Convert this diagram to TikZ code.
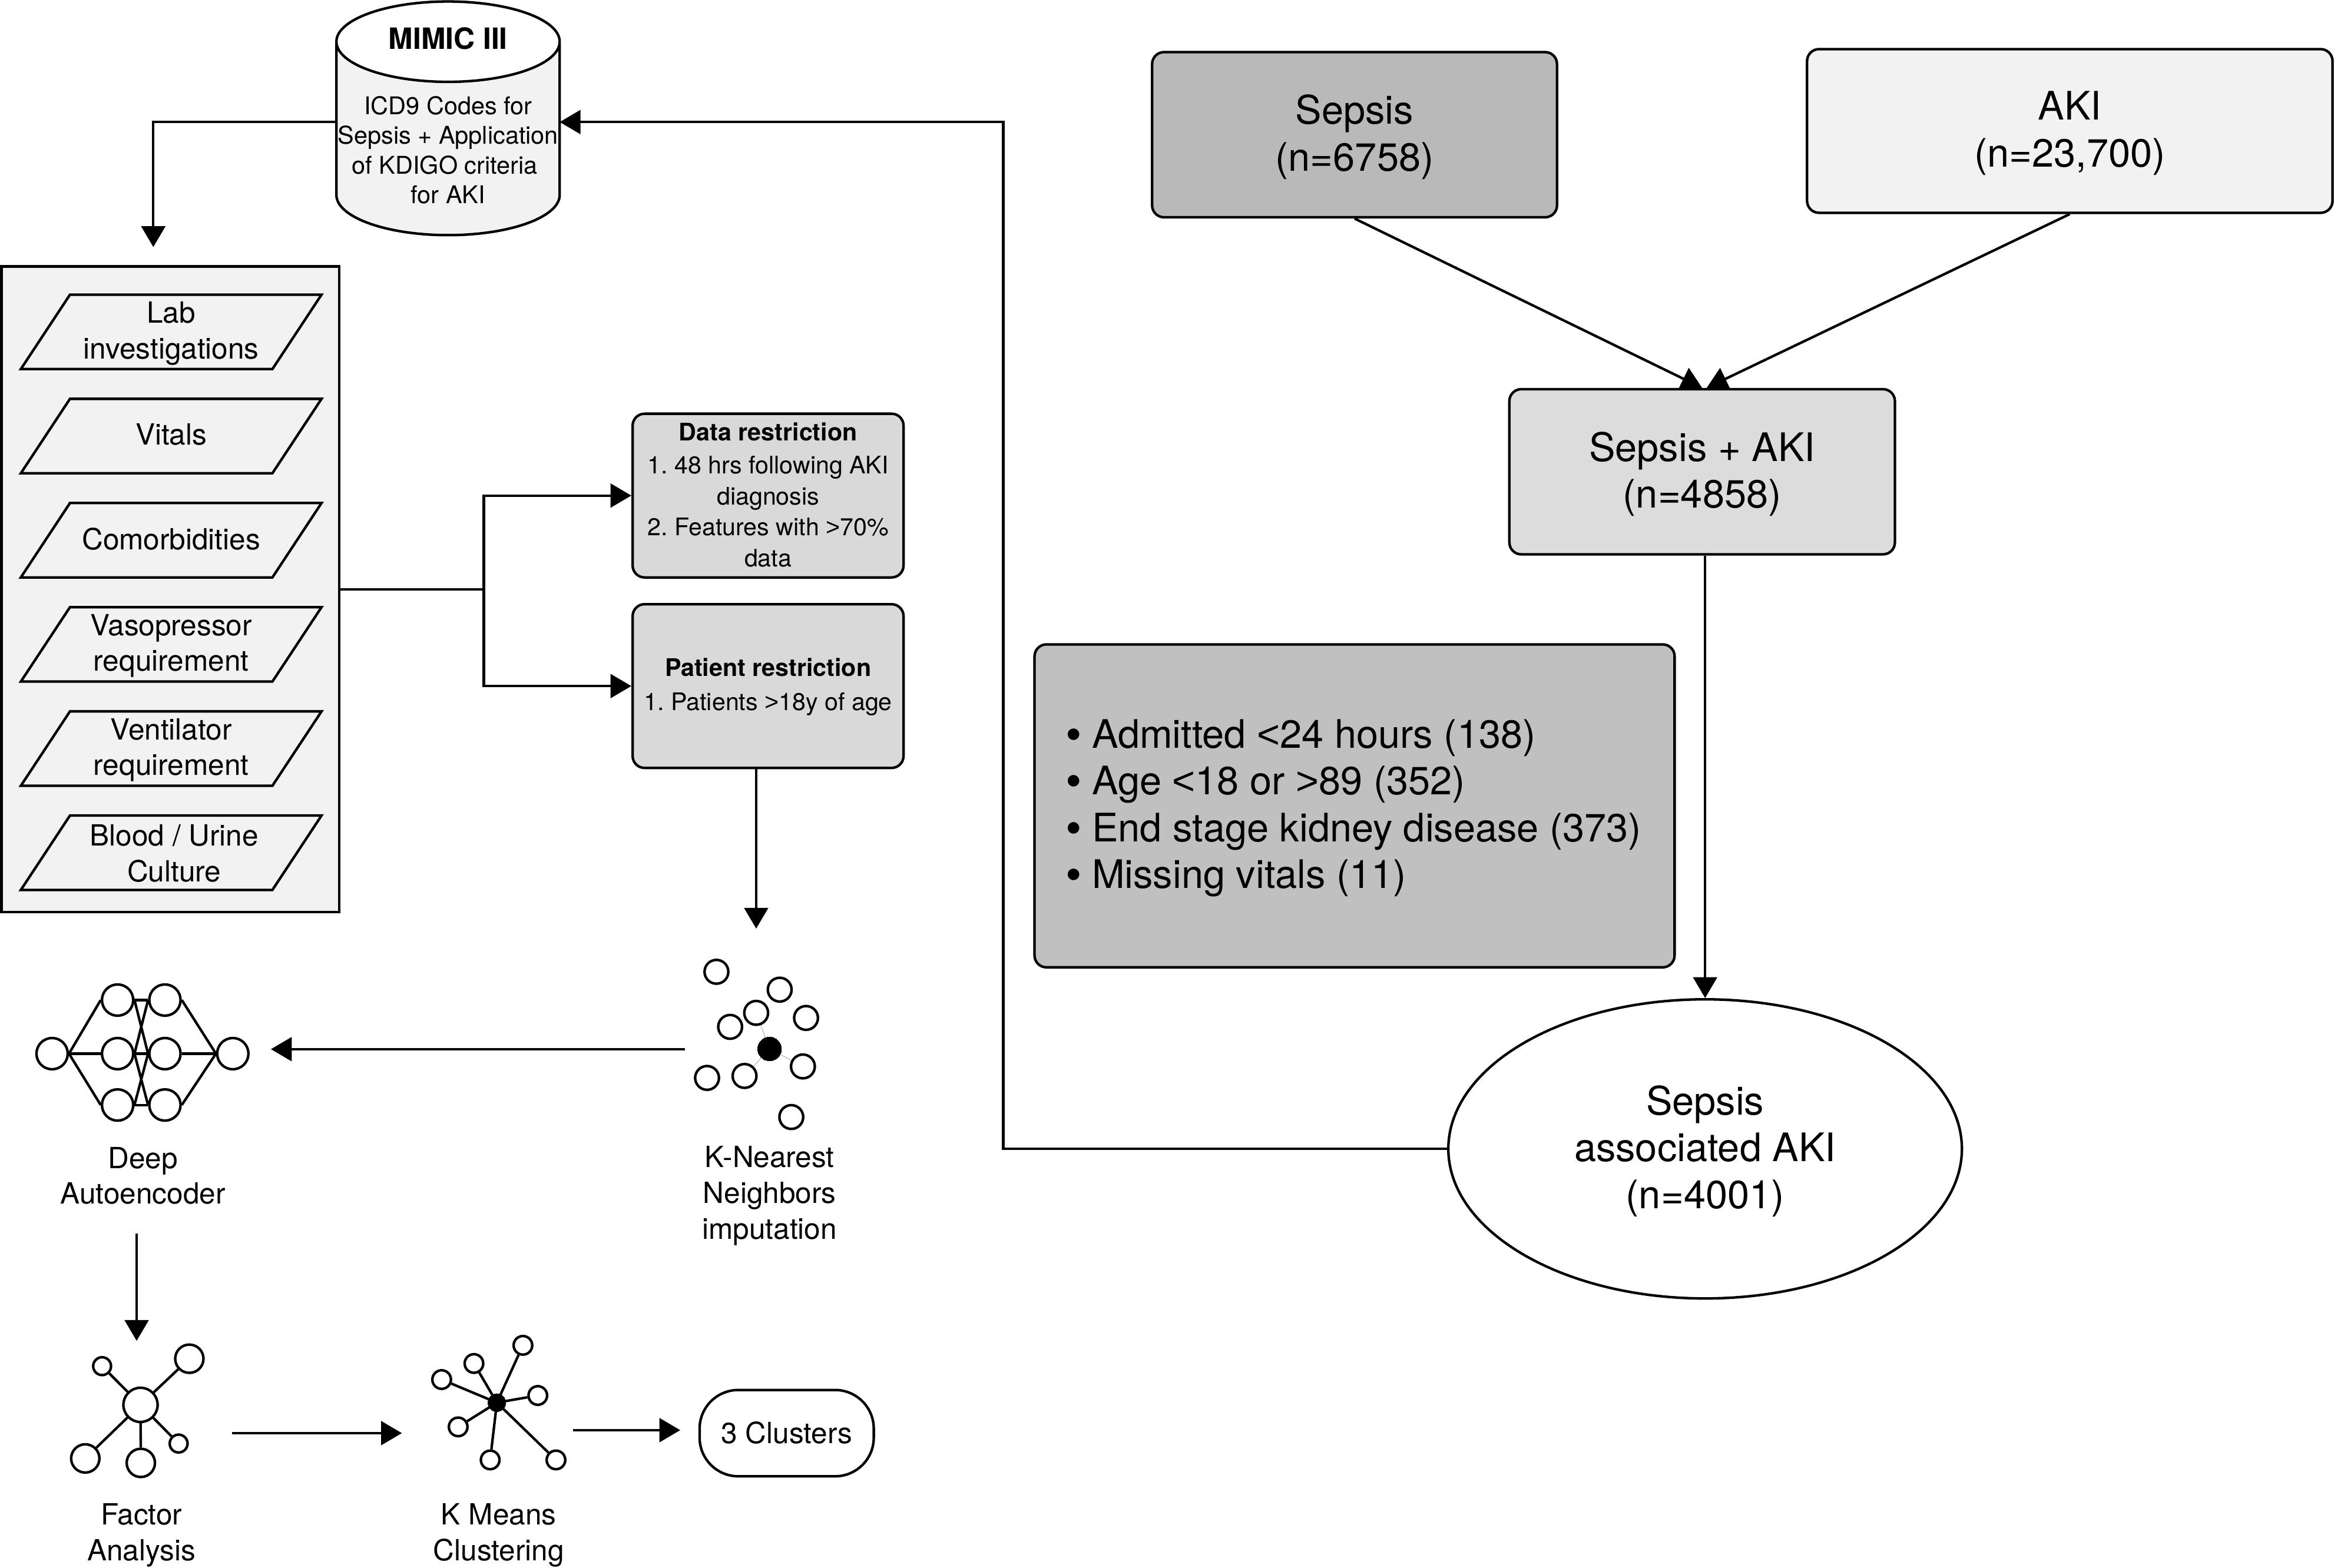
\documentclass[tikz,border=0pt]{standalone}
\usepackage{fontspec}
\setmainfont{TeX Gyre Heros}
\newfontfamily\libf{Liberation Sans}
\newcommand{\ltg}{{\libf <}}
\newcommand{\gtg}{{\libf >}}
\newcommand{\bul}{\makebox[17pt][l]{\hspace{-0.6pt}\raisebox{-1.6pt}{\fontsize{31}{31}\selectfont •}}}
\usetikzlibrary{arrows.meta,shapes.geometric}
\definecolor{panel}{HTML}{F2F2F2}
\definecolor{boxa}{HTML}{B9B9B9}
\definecolor{boxb}{HTML}{DCDCDC}
\definecolor{boxc}{HTML}{C0C0C0}
\definecolor{boxd}{HTML}{D9D9D9}
\tikzset{
 x=1pt,y=-1pt,
 every path/.style={line width=1.7pt},
 line/.style={draw=black,line width=1.7pt},
 arr/.style={draw=black,line width=1.7pt,-{Triangle[length=14pt,width=16pt]}},
 big/.style={font=\fontsize{26.4}{31.5}\selectfont\frenchspacing,align=center,text=black},
 mid/.style={font=\fontsize{19.6}{24}\selectfont\frenchspacing,align=center,text=black},
 small/.style={font=\fontsize{16.3}{20.8}\selectfont\frenchspacing,align=center,text=black},
 rbox/.style={draw=black,line width=1.7pt,rounded corners=8pt,inner sep=0pt},
 dot/.style={circle,draw=black,line width=1.7pt,fill=white,inner sep=0pt,minimum size=#1},
 blk/.style={circle,draw=black,fill=black,line width=0pt,inner sep=0pt,minimum size=#1},
 para/.style={draw=black,line width=1.7pt,fill=panel,line join=miter},
}
\newcommand{\paral}[2]{%
 \draw[para] (47,#1) -- (216,#1) -- (183,#1+50) -- (14,#1+50) -- cycle;}
\begin{document}
\begin{tikzpicture}
\useasboundingbox (0,0) rectangle (1568,1053.25);
% cylinder
\draw[line,fill=panel] (226,28) arc[start angle=180,end angle=0,x radius=75,y radius=27] -- (376,131)
  arc[start angle=0,end angle=180,x radius=75,y radius=27] -- cycle;
\draw[line] (226,28) arc[start angle=180,end angle=360,x radius=75,y radius=27];
\node[mid,font=\fontsize{19.7}{24}\bfseries\selectfont] (mimic) at (301,26) {MIMIC III};
\node[small,font=\fontsize{16.4}{20}\selectfont\frenchspacing] (codes) at (301,100.8) {ICD9 Codes for\\Sepsis + Application\\of KDIGO criteria\makebox[4.5pt]{}\\for AKI};
\coordinate (cylL) at (226,82);
\coordinate (cylR) at (376,82);
% feature panel
\node[draw=black,line width=1.7pt,fill=panel,minimum width=227pt,minimum height=434pt,inner sep=0pt] (panel) at (114.5,396) {};
\paral{198}{}\paral{268}{}\paral{338}{}\paral{408}{}\paral{478}{}\paral{548}{}
\node[mid] (lab) at (115,224) {Lab\\investigations};
\node[mid] (vit) at (115,292) {Vitals};
\node[mid] (com) at (115,362) {Comorbidities};
\node[mid] (vas) at (115,434) {Vasopressor\\requirement};
\node[mid] (ven) at (115,504) {Ventilator\\requirement};
\node[mid] (blo) at (117,573.5) {Blood / Urine\\Culture};
\coordinate (panelIn) at (103,166);
\coordinate (cylElbow) at (103,82);
\draw[arr] (cylL) -- (cylElbow) -- (panelIn);
% restrictions
\node[rbox,fill=boxd,minimum width=182pt,minimum height=110pt] (data) at (516,333) {};
\node[small] (datatxt) at (516,332.5) {\textbf{Data restriction}\\[1.5pt]1. 48 hrs following AKI\\diagnosis\\2. Features with \gtg70\%\\data};
\node[rbox,fill=boxd,minimum width=182pt,minimum height=110pt] (pat) at (516,461) {};
\node[small,font=\fontsize{16.3}{23}\selectfont\frenchspacing] (pattxt) at (516,461.5) {\textbf{Patient restriction}\\1. Patients \gtg18y of age};
\coordinate (branch) at (325,396);
\draw[line] (panel.east |- branch) -- (branch);
\draw[arr] (branch) |- (data.west);
\draw[arr] (branch) |- (pat.west);
% KNN
\coordinate (knnTop) at (508,624);
\draw[arr] (pat.south -| knnTop) -- (knnTop);
\node[dot=16pt] (k1) at (481.3,653) {};
\node[dot=16pt] (k2) at (523.8,665) {};
\node[dot=16pt] (k3) at (508,680.6) {};
\node[dot=16pt] (k4) at (541.5,684) {};
\node[dot=16pt] (k5) at (490.5,690) {};
\node[blk=16pt] (k6) at (517,704.8) {};
\node[dot=16pt] (k7) at (539.4,716.6) {};
\node[dot=16pt] (k8) at (500.2,723) {};
\node[dot=16pt] (k9) at (475,724.3) {};
\node[dot=16pt] (k10) at (531.6,750.6) {};
\foreach \n in {k3,k7,k8} \draw[gray!70,line width=0.35pt] (k6) -- (\n);
\node[mid] (knnlab) at (517,803.5) {K-Nearest\\Neighbors\\imputation};
% autoencoder
\node[dot=21pt] (a0) at (35,708) {};
\node[dot=21pt] (a1) at (79,672) {};
\node[dot=21pt] (a2) at (79,708) {};
\node[dot=21pt] (a3) at (79,742.5) {};
\node[dot=21pt] (b1) at (110.8,672) {};
\node[dot=21pt] (b2) at (110.8,708) {};
\node[dot=21pt] (b3) at (110.8,742.5) {};
\node[dot=21pt] (o) at (156.4,708) {};
\foreach \n in {a1,a2,a3} \draw[line] (a0.east) -- (\n.west);
\foreach \n in {b1,b2,b3} \draw[line] (\n.east) -- (o.west);
\foreach \p/\q in {a1/b1,a1/b2,a2/b1,a2/b2,a2/b3,a3/b2,a3/b3} \draw[line] (\p.east) -- (\q.west);
\coordinate (knnOut) at (460,705);
\coordinate (aeIn) at (182,705);
\draw[arr] (knnOut) -- (aeIn);
\node[mid] (aelab) at (96,790) {Deep\\Autoencoder};
\coordinate (aeOut) at (91.8,829);
\coordinate (faIn) at (91.8,901);
\draw[arr] (aeOut) -- (faIn);
% factor analysis
\node[dot=23pt] (f0) at (94.4,944) {};
\node[dot=12pt] (f1) at (68.6,918) {};
\node[dot=19pt] (f2) at (127.2,913) {};
\node[dot=19pt] (f3) at (57.3,980) {};
\node[dot=19pt] (f4) at (94.6,983) {};
\node[dot=12pt] (f5) at (120,970) {};
\foreach \n in {f1,f2,f3,f4,f5} \draw[line] (f0) -- (\n);
\node[mid] (falab) at (95,1031.5) {Factor\\Analysis};
\coordinate (faOut) at (156,963);
\coordinate (kmIn) at (270,963);
\draw[arr] (faOut) -- (kmIn);
% k means
\node[blk=12pt] (m0) at (333.8,942.5) {};
\node[dot=12.5pt] (m1) at (351.3,904) {};
\node[dot=12.5pt] (m2) at (318.4,916.2) {};
\node[dot=12.5pt] (m3) at (296.7,927) {};
\node[dot=12.5pt] (m4) at (361.3,937.7) {};
\node[dot=12.5pt] (m5) at (307.8,958.8) {};
\node[dot=12.5pt] (m6) at (329.3,981) {};
\node[dot=12.5pt] (m7) at (373.5,981) {};
\foreach \n in {m1,m2,m3,m4,m5,m6,m7} \draw[line] (m0) -- (\n);
\node[mid] (kmlab) at (335,1031.5) {K Means\\Clustering};
% clusters
\node[draw=black,line width=1.7pt,rounded corners=26pt,minimum width=117pt,minimum height=58pt,inner sep=0pt,mid] (clu) at (528.5,963) {\raisebox{1pt}{3 Clusters}};
\coordinate (kmOut) at (385,961);
\coordinate (cluIn) at (457,961);
\draw[arr] (kmOut) -- (cluIn);
% right side
\node[rbox,fill=boxa,minimum width=272pt,minimum height=111pt] (sepsis) at (910,90.5) {};
\node[big] (sepsistxt) at (910,92) {Sepsis\\(n=6758)};
\node[rbox,fill=panel,minimum width=353pt,minimum height=110pt] (aki) at (1390.5,88) {};
\node[big] (akitxt) at (1390.5,89.5) {AKI\\(n=23,700)};
\node[rbox,fill=boxb,minimum width=259pt,minimum height=111pt] (sa) at (1143.5,317) {};
\node[big] (satxt) at (1143.5,318.5) {Sepsis + AKI\\(n=4858)};
\node[rbox,fill=boxc,minimum width=430pt,minimum height=217pt] (excl) at (910,541.5) {};
\node[big,align=left] (excltxt) at (909.7,543) {\bul Admitted \ltg24 hours (138)\\\bul Age \ltg18 or \gtg89 (352)\\\bul End stage kidney disease (373)\\\bul Missing vitals (11)};
\node[ellipse,draw=black,line width=1.7pt,fill=white,minimum width=345pt,minimum height=201pt,inner sep=0pt] (ell) at (1145.5,772) {};
\node[big] (elltxt) at (1145.5,773.5) {Sepsis\\associated AKI\\(n=4001)};
\draw[arr] (sepsis.south) -- (sa.north);
\draw[arr] (aki.south) -- ([xshift=3pt]sa.north);
\draw[arr] (sa.south -| ell.north) -- (ell.north);
\coordinate (loopA) at (674,772);
\coordinate (loopB) at (674,82);
\draw[arr] (ell.west) -- (loopA) -- (loopB) -- (cylR);
\end{tikzpicture}
\end{document}
